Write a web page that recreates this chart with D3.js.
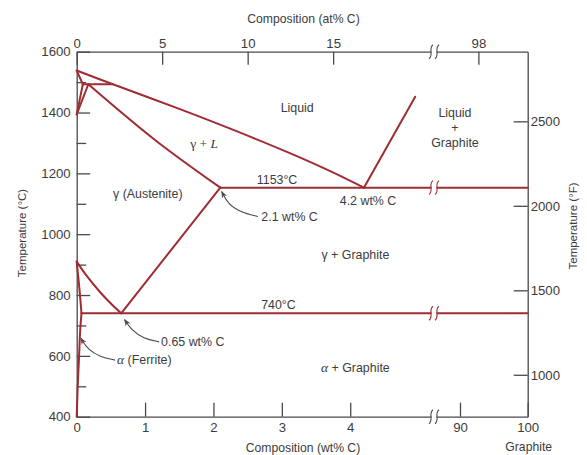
<!DOCTYPE html>
<html>
<head>
<meta charset="utf-8">
<script src="https://cdn.jsdelivr.net/npm/d3@7"></script>
<style>
  html, body { margin: 0; padding: 0; background: #fff; }
  svg { display: block; font-family: "Liberation Sans", Arial, sans-serif; }
</style>
</head>
<body>
<svg id="chart" width="587" height="455"></svg>
<script>
// Iron–graphite phase boundaries as [wt% C, temperature °C]
const deltaSolidus     = [[0, 1538], [0.09, 1493]];
const deltaGammaUpper  = [[0, 1394], [0.09, 1493]];
const deltaGammaLower  = [[0, 1394], [0.17, 1493]];
const peritectic       = [[0.09, 1493], [0.53, 1493]];
const liquidus         = [[0, 1538], [0.53, 1493], [1.5, 1412], [2.3, 1342], [3.1, 1268], [3.7, 1208], [4.2, 1153]];
const graphiteLiquidus = [[4.2, 1153], [4.95, 1452]];
const solidus          = [[0.17, 1493], [1.15, 1309], [2.1, 1153]];
const eutecticLine     = [[2.1, 1153], [100, 1153]];
const acmLine          = [[0.65, 740], [2.1, 1153]];
const a3Line           = [[0, 910], [0.15, 862], [0.34, 810], [0.5, 772], [0.65, 740]];
const alphaGamma       = [[0, 910], [0.04, 820], [0.07, 740]];
const eutectoidLine    = [[0.07, 740], [100, 740]];
const alphaSolvus      = [[0.07, 740], [0.05, 680], [0.035, 600], [0.015, 500], [0, 400]];

// Axis ticks
const wtTicks = [0, 1, 2, 3, 4, 90, 100];
const atTicks = [0, 5, 10, 15, 98];
const celsiusTicks = d3.range(400, 1601, 100);
const fahrenheitTicks = [1000, 1500, 2000, 2500];

// Leader arrows for point annotations [wt% C, °C]
const arrow21    = [[2.65, 1058], [2.39, 1073], [2.215, 1099], [2.12, 1140]];
const arrow065   = [[1.205, 646], [0.975, 657], [0.805, 684], [0.70, 719]];
const arrowAlpha = [[0.56, 586], [0.34, 597], [0.17, 619], [0.06, 658]];

// Region and point labels [text, wt% C, °C, anchor]
const labels = [
  ["Liquid", 3.225, 1415, "middle"],
  ["γ (Austenite)", 1.04, 1134, "middle"],
  ["1153°C", 2.93, 1180, "middle"],
  ["4.2 wt% C", 4.26, 1110, "middle"],
  ["2.1 wt% C", 2.70, 1057, "start"],
  ["γ + Graphite", 4.075, 934, "middle"],
  ["740°C", 2.95, 767, "middle"],
  ["0.65 wt% C", 1.234, 646, "start"]
];

const svg = d3.select("#chart");

const plotLeft = 76.7, plotRight = 527.7, plotTop = 51.7, plotBottom = 416.7, breakX = 434;

// Broken composition axis: 0–5.2 wt% then 86–100 wt%
const x = d3.scaleLinear().domain([0, 5.225, 86.16, 100]).range([plotLeft, breakX, breakX, plotRight]);
const xAt = d3.scaleLinear().domain([0, 20.9, 96.2, 100]).range([plotLeft, breakX, breakX, plotRight]);
const y = d3.scaleLinear().domain([400, 1600]).range([plotBottom, plotTop]);
const yF = d3.scaleLinear().domain([400 * 1.8 + 32, 1600 * 1.8 + 32]).range([plotBottom, plotTop]);

const axisColor = "#4a4a4a";
const textColor = "#3c3c3c";
const phaseColor = "#9e2c32";
const tickFont = 13.2;
const labelFont = 12.4;

function styleAxis(g) {
  g.select(".domain").attr("stroke", axisColor).attr("stroke-width", 1.3);
  g.selectAll(".tick line").attr("stroke", axisColor).attr("stroke-width", 1.3);
  g.selectAll(".tick text").attr("fill", textColor).attr("font-size", tickFont)
    .attr("font-family", "'Liberation Sans', Arial, sans-serif");
}

// Bottom (wt%)
svg.append("g").attr("transform", `translate(0,${plotBottom})`)
  .call(d3.axisBottom(x).tickValues(wtTicks).tickSize(-14).tickSizeOuter(0).tickPadding(6).tickFormat(d3.format("d")))
  .call(styleAxis);

// Top (at%)
svg.append("g").attr("transform", `translate(0,${plotTop})`)
  .call(d3.axisTop(xAt).tickValues(atTicks).tickSize(-13).tickSizeOuter(0).tickPadding(4).tickFormat(d3.format("d")))
  .call(styleAxis);

// Left (°C)
const gLeft = svg.append("g").attr("transform", `translate(${plotLeft},0)`)
  .call(d3.axisLeft(y).tickValues(celsiusTicks).tickSize(-13.5).tickSizeOuter(0).tickPadding(6)
    .tickFormat(d => d % 200 === 0 ? d : ""))
  .call(styleAxis);
gLeft.selectAll(".tick line").attr("x2", d => d % 200 === 0 ? 13.5 : 9.5);

// Right (°F)
svg.append("g").attr("transform", `translate(${plotRight},0)`)
  .call(d3.axisRight(yF).tickValues(fahrenheitTicks).tickSize(-14).tickSizeOuter(0).tickPadding(3)
    .tickFormat(d3.format("d")))
  .call(styleAxis);

// Phase boundaries
const line = d3.line().x(d => x(d[0])).y(d => y(d[1])).curve(d3.curveCatmullRom.alpha(0.5));
const boundaries = [deltaSolidus, deltaGammaUpper, deltaGammaLower, peritectic, liquidus,
  graphiteLiquidus, solidus, eutecticLine, acmLine, a3Line, alphaGamma, eutectoidLine, alphaSolvus];
svg.append("g").selectAll("path").data(boundaries).join("path")
  .attr("d", line).attr("fill", "none")
  .attr("stroke", phaseColor).attr("stroke-width", 2)
  .attr("stroke-linejoin", "round").attr("stroke-linecap", "round");

// Scale-break marks on axes and on the horizontal isotherms
function breakMark(yy, color) {
  const g = svg.append("g");
  g.append("rect").attr("x", breakX - 2.5).attr("y", yy - 2).attr("width", 5).attr("height", 4).attr("fill", "#fff");
  [-3, 3].forEach(off => {
    const cx = breakX + off;
    g.append("path")
      .attr("d", `M${cx - 2},${yy + 7} C${cx + 3},${yy + 3} ${cx - 3},${yy - 3} ${cx + 2},${yy - 7}`)
      .attr("fill", "none").attr("stroke", color).attr("stroke-width", 1.1);
  });
}
breakMark(plotTop, axisColor);
breakMark(plotBottom, axisColor);
breakMark(y(1153), phaseColor);
breakMark(y(740), phaseColor);

// Arrowhead
svg.append("defs").append("marker")
  .attr("id", "head").attr("viewBox", "0 0 10 10").attr("refX", 9).attr("refY", 5)
  .attr("markerWidth", 7).attr("markerHeight", 7).attr("markerUnits", "userSpaceOnUse")
  .attr("orient", "auto")
  .append("path").attr("d", "M0,1 L10,5 L0,9 L3,5 Z").attr("fill", axisColor);

const leader = d3.line().x(d => x(d[0])).y(d => y(d[1])).curve(d3.curveBasis);
svg.append("g").selectAll("path").data([arrow21, arrow065, arrowAlpha]).join("path")
  .attr("d", leader).attr("fill", "none").attr("stroke", axisColor).attr("stroke-width", 1.1)
  .attr("marker-end", "url(#head)");

// Labels
const lab = svg.append("g").attr("fill", textColor).attr("font-size", labelFont);
lab.selectAll("text.plain").data(labels).join("text").attr("class", "plain")
  .attr("x", d => x(d[1])).attr("y", d => y(d[2])).attr("dy", "0.35em")
  .attr("text-anchor", d => d[3]).text(d => d[0]);

// γ + L
const gammaL = lab.append("text").attr("x", x(1.864)).attr("y", y(1299)).attr("dy", "0.35em")
  .attr("text-anchor", "middle").attr("font-family", "'Liberation Serif', 'DejaVu Serif', serif")
  .attr("font-size", 13.5);
gammaL.append("tspan").text("γ + ");
gammaL.append("tspan").attr("font-style", "italic").text("L");

// α (Ferrite) and α + Graphite
function alphaLabel(wt, t, rest, anchor) {
  const tx = lab.append("text").attr("x", x(wt)).attr("y", y(t)).attr("dy", "0.35em").attr("text-anchor", anchor);
  tx.append("tspan").attr("font-family", "'Liberation Serif', 'DejaVu Serif', serif")
    .attr("font-style", "italic").attr("font-size", 13.5).text("α");
  tx.append("tspan").text(rest);
}
alphaLabel(0.59, 586, " (Ferrite)", "start");
alphaLabel(4.075, 562, " + Graphite", "middle");

// Liquid + Graphite (right-hand panel)
[["Liquid", 1398], ["+", 1350], ["Graphite", 1301]].forEach(([s, t]) => {
  lab.append("text").attr("x", x(89.26)).attr("y", y(t)).attr("dy", "0.35em")
    .attr("text-anchor", "middle").text(s);
});

// Axis titles
const titles = svg.append("g").attr("fill", textColor);
titles.append("text").attr("x", 303.5).attr("y", 23).attr("text-anchor", "middle")
  .attr("font-size", 12.2).text("Composition (at% C)");
titles.append("text").attr("x", 303).attr("y", 451.5).attr("text-anchor", "middle")
  .attr("font-size", 12.2).text("Composition (wt% C)");
titles.append("text").attr("x", x(100) + 1).attr("y", 451).attr("text-anchor", "middle")
  .attr("font-size", 12.2).text("Graphite");
titles.append("text").attr("transform", "translate(25.5,233) rotate(-90)").attr("text-anchor", "middle")
  .attr("font-size", 11.5).text("Temperature (°C)");
titles.append("text").attr("transform", "translate(577,226) rotate(-90)").attr("text-anchor", "middle")
  .attr("font-size", 11.5).text("Temperature (°F)");
</script>
</body>
</html>
